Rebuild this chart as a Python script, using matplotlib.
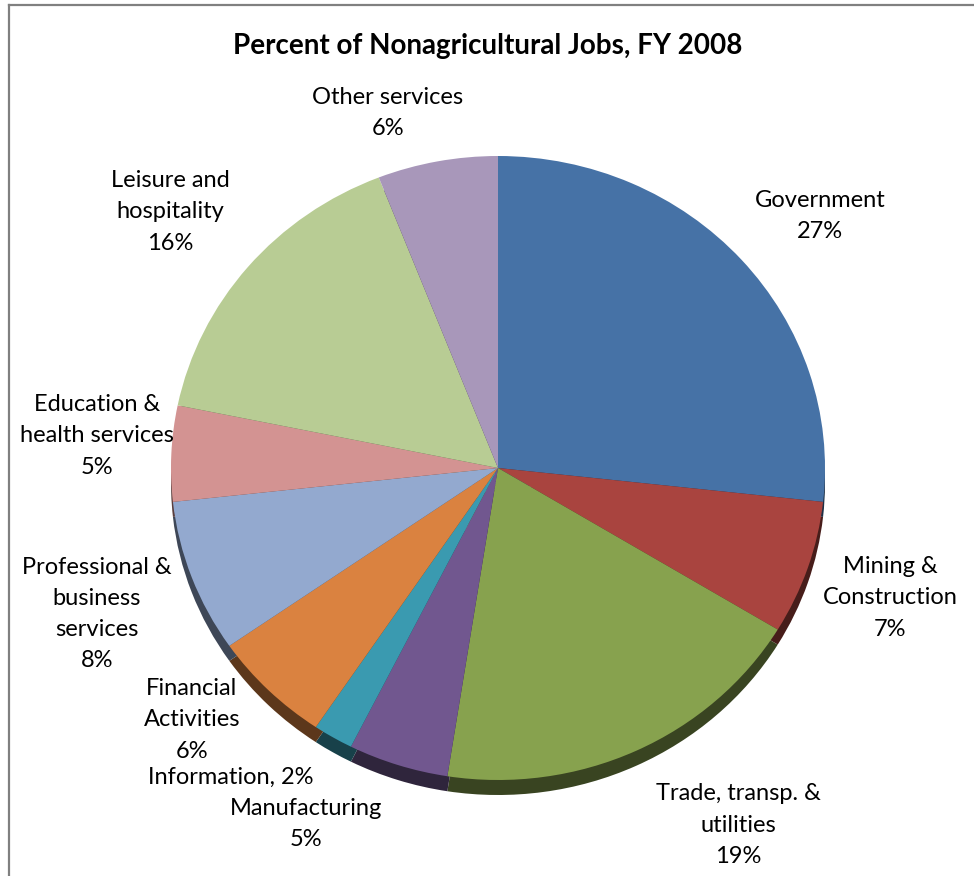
import matplotlib
matplotlib.use("Agg")
import matplotlib.pyplot as plt
from matplotlib.lines import Line2D
import numpy as np

# ---- data ----
categories = ["Government", "Mining & Construction", "Trade, transp. & utilities",
              "Manufacturing", "Information", "Financial Activities",
              "Professional & business services", "Education & health services",
              "Leisure and hospitality", "Other services"]
values = [27, 7, 19, 5, 2, 6, 8, 5, 16, 6]
label_texts = ["Government\n27%", "Mining &\nConstruction\n7%", "Trade, transp. &\nutilities\n19%",
               "Manufacturing\n5%", "Information, 2%", "Financial\nActivities\n6%",
               "Professional &\nbusiness\nservices\n8%", "Education &\nhealth services\n5%",
               "Leisure and\nhospitality\n16%", "Other services\n6%"]
colors = ["#4672A6", "#A9443F", "#87A24E", "#71578F", "#3A9AB0", "#DA8240",
          "#93A9CF", "#D39392", "#B8CC94", "#A897BA"]
title = "Percent of Nonagricultural Jobs, FY 2008"

W, H = 974, 876
fig = plt.figure(figsize=(W / 100, H / 100), dpi=100)
fig.patch.set_facecolor("white")

# pie geometry (pixels)
cx, cy, rx, ry = 498, 468, 327, 312
shadow = 15
ax = fig.add_axes([(cx - rx) / W, 1 - (cy + ry + shadow) / H, 2 * rx / W, (2 * ry + shadow) / H])
ax.axis("off")

def darken(c, f=0.42):
    r, g, b = matplotlib.colors.to_rgb(c)
    return (r * f, g * f, b * f)

# 3D-like bottom edge (shadow pie)
ax.pie(values, colors=[darken(c) for c in colors], startangle=90, counterclock=False,
       radius=1.0, center=(0, -shadow / ry), wedgeprops=dict(linewidth=0), frame=False)
ax.pie(values, colors=colors, startangle=90, counterclock=False,
       radius=1.0, center=(0, 0), wedgeprops=dict(linewidth=0), frame=False)
ax.set_aspect("auto")
ax.set_xlim(-1, 1)
ax.set_ylim(-1 - shadow / ry, 1)
ax.axis("off")

# labels (pixel positions of label centres)
label_pos = [(820, 216), (890, 598), (738, 825), (306, 824), (231, 777), (192, 720),
             (97, 614), (97, 436), (170, 212), (388, 113)]
fam = ["Lato", "DejaVu Sans"]
for txt, (x, y) in zip(label_texts, label_pos):
    fig.text(x / W, 1 - y / H, txt, ha="center", va="center", fontsize=17,
             family=fam, linespacing=1.6, color="black")

fig.text(488 / W, 1 - 46 / H, title, ha="center", va="center", fontsize=20,
         fontweight="bold", family=["Lato", "DejaVu Sans"])

# frame lines (top and left)
fig.add_artist(Line2D([8.5 / W, 1], [1 - 4.5 / H, 1 - 4.5 / H], color="#808080", lw=1.6,
                      transform=fig.transFigure))
fig.add_artist(Line2D([8.5 / W, 8.5 / W], [0, 1 - 4.5 / H], color="#808080", lw=1.6,
                      transform=fig.transFigure))

fig.savefig("out.png", dpi=100, facecolor="white")
